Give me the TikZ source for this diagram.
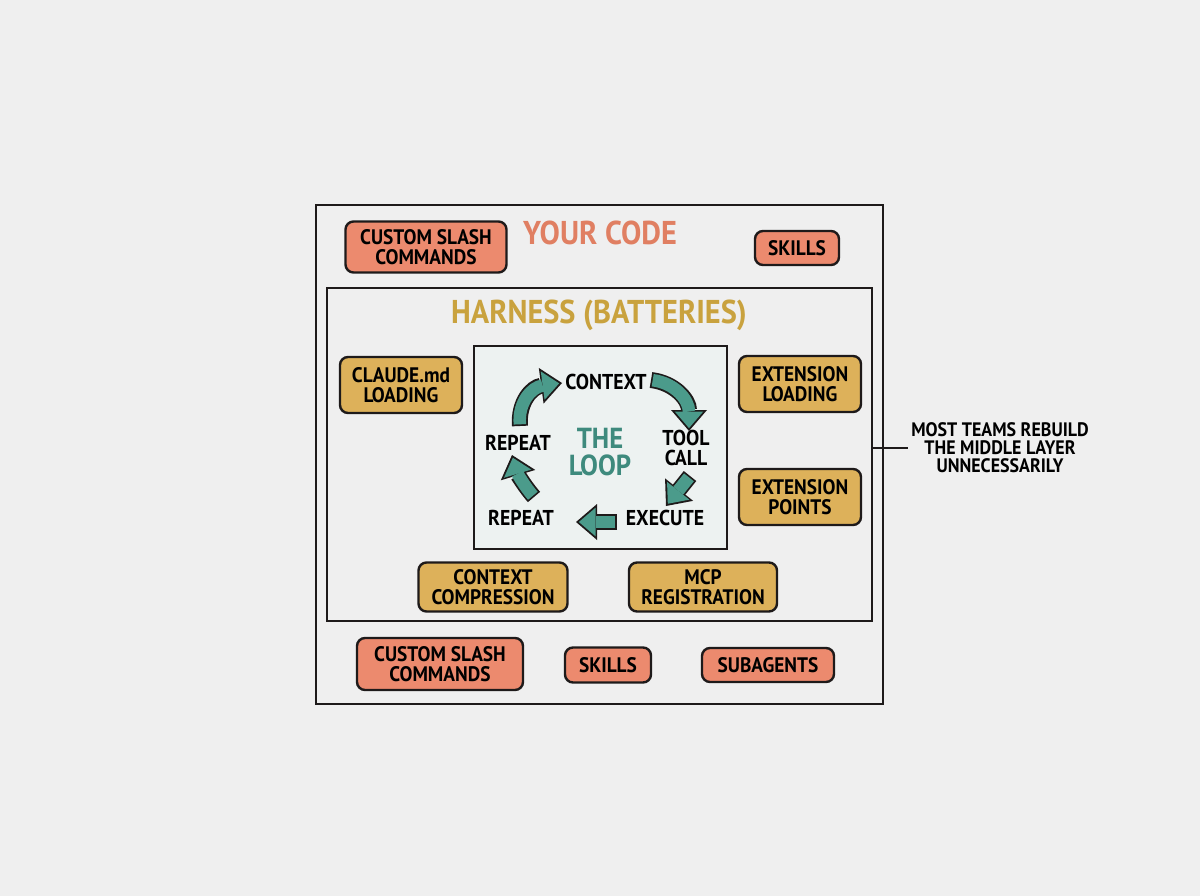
\documentclass[tikz,border=0pt]{standalone}
\usepackage{fontspec}
\setmainfont{PT Sans}[FakeStretch=0.92]
\usetikzlibrary{arrows.meta}

\definecolor{paper}{HTML}{EFEFEF}
\definecolor{salmon}{HTML}{EC8A6E}
\definecolor{salmontxt}{HTML}{E07F62}
\definecolor{mustard}{HTML}{DDB15A}
\definecolor{mustardtxt}{HTML}{C9A23E}
\definecolor{loopteal}{HTML}{4B9B8B}
\definecolor{looptxt}{HTML}{3E8A7D}
\definecolor{loopbg}{HTML}{EDF2F1}
\definecolor{ink}{HTML}{1E1A1A}

\begin{document}
\begin{tikzpicture}[x=1pt,y=-1pt,
	frame/.style={draw=ink, line width=2.2pt, inner sep=0pt},
	pill/.style={draw=ink, line width=2.4pt, rounded corners=8pt, align=center, inner sep=0pt,
		font=\bfseries\fontsize{21}{19.5}\selectfont},
	yours/.style={pill, fill=salmon},
	batt/.style={pill, fill=mustard},
	heading/.style={font=\bfseries\fontsize{33}{33}\selectfont},
	looplabel/.style={align=center, font=\bfseries\fontsize{21.5}{20}\selectfont},
	turn/.style={line width=16pt, draw=ink, -{Triangle[width=36pt,length=21pt,line width=0pt]}},
	turnfill/.style={line width=12.5pt, draw=loopteal, shorten <=1.7pt, shorten >=2.9pt,
		-{Triangle[width=28.5pt,length=16.6pt,line width=0pt]}}]

	\fill[paper] (0,0) rectangle (1200,896);
	\useasboundingbox (0,0) rectangle (1200,896);

	% layers
	\node[frame, fill=paper, minimum width=567, minimum height=499] (code) at (599.5,454.5) {};
	\node[frame, fill=paper, minimum width=545, minimum height=333] (harness) at (599.5,454.5) {};
	\node[frame, fill=loopbg, minimum width=253, minimum height=203] (loop) at (600.5,447.5) {};

	\node[heading, text=salmontxt] (codetitle) at (600,233) {YOUR CODE};
	\node[heading, text=mustardtxt] (harnesstitle) at (599,315) {HARNESS (BATTERIES)};

	% your code, top row
	\node[yours, minimum width=161, minimum height=51] (slashtop) at (426,247) {CUSTOM SLASH\\COMMANDS};
	\node[yours, minimum width=84, minimum height=34] (skillstop) at (797,248) {SKILLS};

	% batteries
	\node[batt, minimum width=122, minimum height=56] (claude) at (401,385) {CLAUDE.md\\LOADING};
	\node[batt, minimum width=122, minimum height=56] (extload) at (800,384) {EXTENSION\\LOADING};
	\node[batt, minimum width=122, minimum height=56] (extpts) at (800,497) {EXTENSION\\POINTS};
	\node[batt, minimum width=149, minimum height=49] (compress) at (493,587) {CONTEXT\\COMPRESSION};
	\node[batt, minimum width=148, minimum height=49] (mcp) at (703,587) {MCP\\REGISTRATION};

	% your code, bottom row
	\node[yours, minimum width=166, minimum height=52] (slashbot) at (440,664) {CUSTOM SLASH\\COMMANDS};
	\node[yours, minimum width=86, minimum height=35] (skillsbot) at (608,665) {SKILLS};
	\node[yours, minimum width=132, minimum height=34] (subagents) at (768,665) {SUBAGENTS};

	% the loop
	\node[looplabel, text=looptxt, font=\bfseries\fontsize{29}{27}\selectfont] (loopname) at (600,452) {THE\\LOOP};
	\node[looplabel] (ctx) at (606,382) {CONTEXT};
	\node[looplabel] (tool) at (686,448) {TOOL\\CALL};
	\node[looplabel] (exec) at (665,518) {EXECUTE};
	\node[looplabel] (repbot) at (521,518) {REPEAT};
	\node[looplabel] (repleft) at (518,443) {REPEAT};

	\coordinate (a1) at (520,426); \coordinate (b1) at (562,383);
	\coordinate (a2) at (651,380); \coordinate (b2) at (689,431);
	\coordinate (a3) at (690,476); \coordinate (b3) at (666,506);
	\coordinate (a4) at (617,522); \coordinate (b4) at (576,522);
	\coordinate (a5) at (534,497); \coordinate (b5) at (512,455);

	\foreach \s in {turn, turnfill}{
		\draw[\s] (a1) .. controls (518,402) and (532,387) .. (b1);
		\draw[\s] (a2) .. controls (675,383) and (689,400) .. (b2);
		\draw[\s] (a3) -- (b3);
		\draw[\s] (a4) -- (b4);
		\draw[\s] (a5) .. controls (526,488) and (518,475) .. (b5);
	}

	% side remark
	\node[align=center, font=\bfseries\fontsize{19.5}{18}\selectfont] (note) at (1000,448)
		{MOST TEAMS REBUILD\\THE MIDDLE LAYER\\UNNECESSARILY};
	\draw[ink, line width=1.6pt] (harness.east |- note.west) -- (note.west);
\end{tikzpicture}
\end{document}
